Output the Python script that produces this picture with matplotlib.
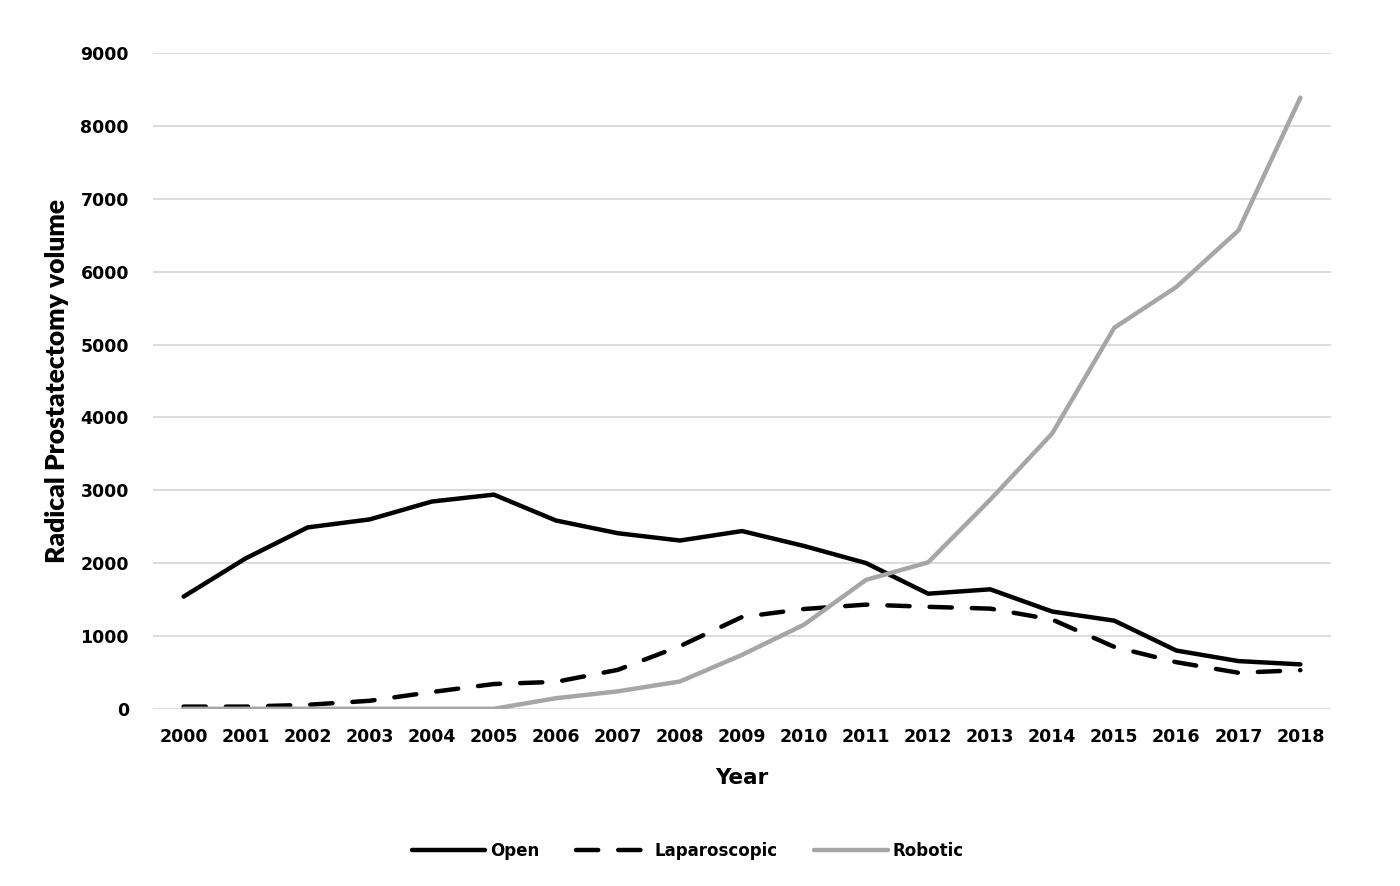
import numpy as np
import matplotlib.pyplot as plt

years = [2000, 2001, 2002, 2003, 2004, 2005, 2006, 2007, 2008, 2009,
         2010, 2011, 2012, 2013, 2014, 2015, 2016, 2017, 2018]
year_labels = [str(y) for y in years]

# valeurs
open_vol = [1540, 2065, 2490, 2600, 2845, 2940, 2585, 2410, 2310, 2440,
            2235, 2000, 1580, 1640, 1335, 1210, 800, 655, 610]
lapa_vol = [30, 30, 55, 110, 230, 340, 370, 535, 860, 1260,
            1370, 1430, 1400, 1375, 1225, 850, 640, 495, 530]
robo_vol = [0, 0, 0, 0, 0, 0, 145, 240, 375, 740,
            1155, 1770, 2010, 2870, 3780, 5230, 5790, 6565, 8390]

x = np.arange(len(years))

fig = plt.figure(figsize=(14, 8.86), dpi=100)
ax = fig.add_axes([0.109, 0.200, 0.842, 0.740])

ax.plot(x, open_vol, color='black', lw=3.2, label='Open',
        solid_joinstyle='round', solid_capstyle='round')
ax.plot(x, lapa_vol, color='black', lw=3.2, label='Laparoscopic',
        dashes=(5, 4.5), dash_capstyle='round')
ax.plot(x, robo_vol, color='#a6a6a6', lw=3.2, label='Robotic',
        solid_joinstyle='round', solid_capstyle='round')

ax.set_xlim(-0.5, len(years) - 0.5)
ax.set_ylim(0, 9000)
ax.set_yticks(np.arange(0, 9001, 1000))
ax.set_xticks(x)
ax.set_xticklabels(year_labels)
ax.grid(axis='y', color='#dcdcdc', lw=1.5)
ax.set_axisbelow(True)
for s in ax.spines.values():
    s.set_visible(False)
ax.tick_params(length=0, labelsize=12.5, pad=14)
ax.tick_params(axis='y', pad=17)
for lab in ax.get_xticklabels() + ax.get_yticklabels():
    lab.set_fontweight('bold')

ax.set_xlabel('Year', fontsize=15.5, fontweight='bold', labelpad=16)
ax.set_ylabel('Radical Prostatectomy volume', fontsize=19, fontweight='heavy',
              family='Lato', labelpad=8)

fig.legend(loc='center', bbox_to_anchor=(688 / 1400, 1 - 851 / 886), ncol=3,
           frameon=False, handlelength=4.4, handletextpad=0.3, columnspacing=2.2,
           prop={'weight': 'bold', 'size': 12})

fig.savefig('out.png')
